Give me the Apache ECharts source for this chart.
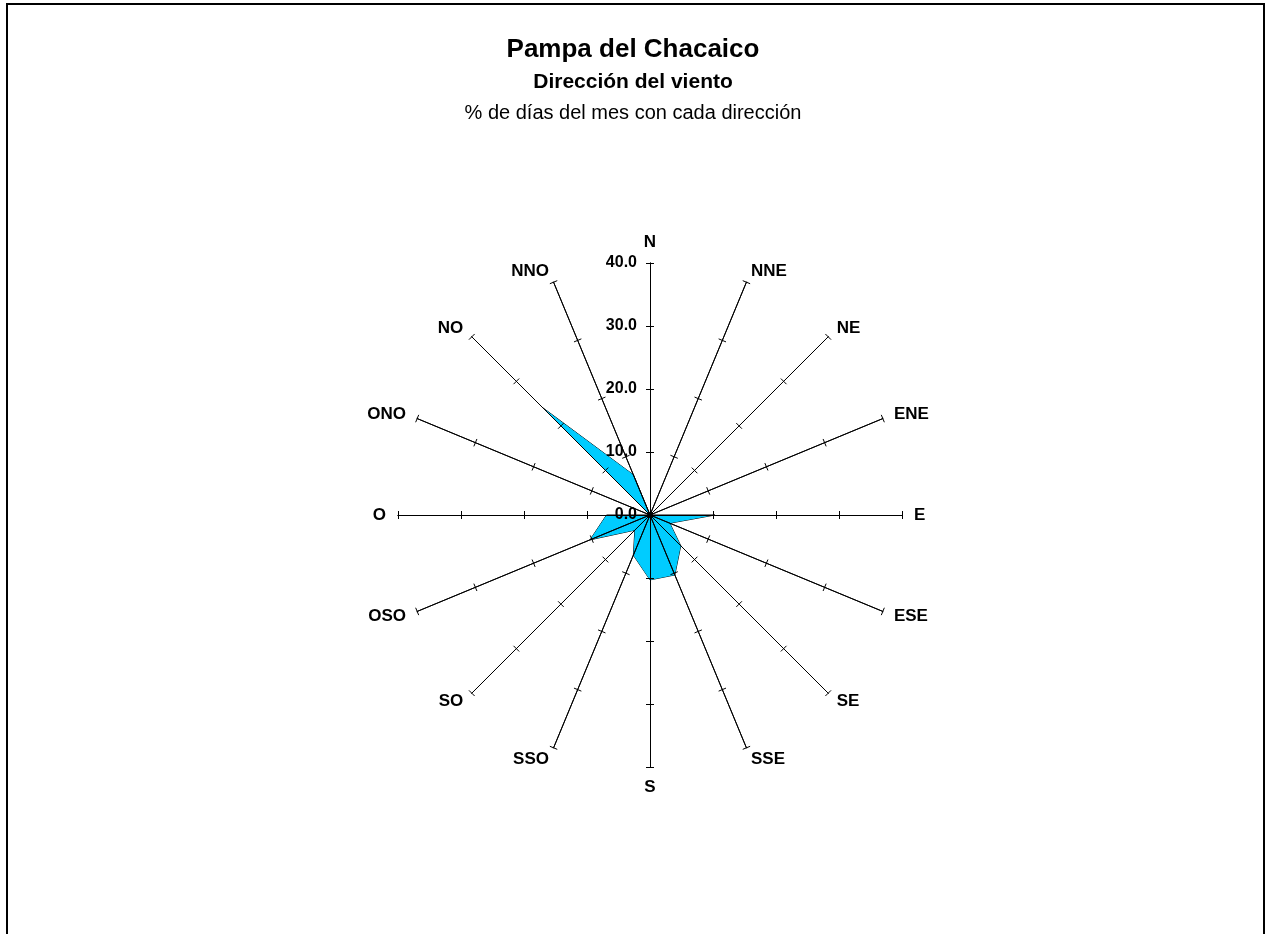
<!DOCTYPE html>
<html><head><meta charset="utf-8">
<script src="https://cdn.jsdelivr.net/npm/echarts@6/dist/echarts.min.js"></script>
<style>html,body{margin:0;padding:0;background:#fff}#c{width:1266px;height:934px}</style>
</head><body><div id="c"></div>
<script>
const directions = ['N','NNE','NE','ENE','E','ESE','SE','SSE','S','SSO','SO','OSO','O','ONO','NO','NNO'];
const percentDays = [0,0,0,0,10.3,3.4,6.9,10.3,10.3,6.9,3.4,10.3,6.9,0,24.1,6.9];
const tickValues = [0,10,20,30,40];
const titleText = 'Pampa del Chacaico';
const subtitleText = 'Dirección del viento';
const noteText = '% de días del mes con cada dirección';

const FONT = "'Liberation Sans', Arial, sans-serif";
// radar runs counterclockwise; reorder (N first) so the rose reads clockwise
const order = [0].concat(directions.map((d, i) => i).slice(1).reverse());
const axisMax = tickValues[tickValues.length - 1];
const splitN = tickValues.length - 1;
const center = [650, 515];
const radius = 252;

const indicatorsMain = order.map((i, k) => {
  const o = { name: directions[i], min: 0, max: axisMax };
  o.axisLabel = k === 0 ? {
    show: true, color: '#000', fontFamily: FONT, fontWeight: 'bold', fontSize: 16,
    margin: 13, formatter: v => Number(v).toFixed(1)
  } : { show: false };
  return o;
});
const indicatorsTicks = order.map(i => ({ name: directions[i], min: 0, max: axisMax }));

const baseRadar = {
  center: center, radius: radius, startAngle: 90, splitNumber: splitN, shape: 'polygon',
  splitLine: { show: false }, splitArea: { show: false },
  axisLine: { show: true, lineStyle: { color: '#000', width: 1 } }
};

const option = {
  backgroundColor: '#fff',
  animation: false,
  title: [
    { text: titleText, left: 'center', top: 37, padding: 0,
      textStyle: { fontFamily: FONT, fontSize: 26, fontWeight: 'bold', color: '#000' } },
    { text: subtitleText, left: 'center', top: 72, padding: 0,
      textStyle: { fontFamily: FONT, fontSize: 21, fontWeight: 'bold', color: '#000' } },
    { text: noteText, left: 'center', top: 103, padding: 0,
      textStyle: { fontFamily: FONT, fontSize: 20, fontWeight: 'normal', color: '#000' } }
  ],
  graphic: [{
    type: 'rect', silent: true,
    shape: { x: 7, y: 4, width: 1257, height: 960 },
    style: { fill: null, stroke: '#000', lineWidth: 2 }
  }],
  radar: [
    Object.assign({}, baseRadar, {
      indicator: indicatorsMain, z: 3,
      axisTick: { show: true, length: 4, lineStyle: { color: '#000' } },
      axisLabel: { show: false },
      axisName: { color: '#000', fontFamily: FONT, fontWeight: 'bold', fontSize: 17 },
      nameGap: 12
    }),
    Object.assign({}, baseRadar, {
      indicator: indicatorsTicks, z: 3,
      axisTick: { show: true, length: -4, lineStyle: { color: '#000' } },
      axisLabel: { show: false },
      axisName: { show: false }
    })
  ],
  series: [{
    type: 'radar', radarIndex: 0, z: 1,
    symbol: 'none',
    lineStyle: { color: '#000', width: 1 },
    areaStyle: { color: '#00CCFF', opacity: 1 },
    data: [{ value: order.map(i => percentDays[i]), name: 'Dirección' }]
  }]
};
const chart = echarts.init(document.getElementById('c'));
chart.setOption(option);
</script></body></html>
